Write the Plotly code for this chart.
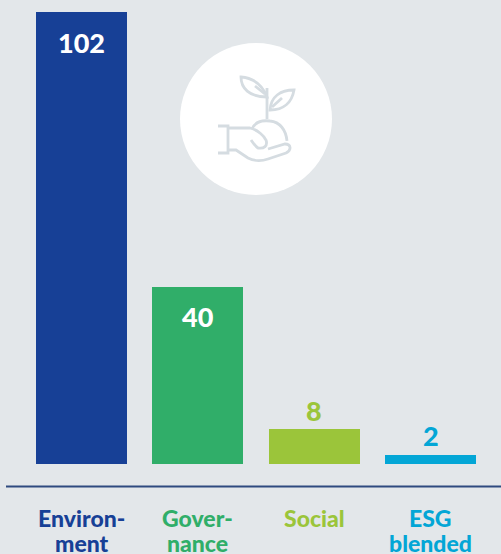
import plotly.graph_objects as go

categories = [["Environ-", "ment"], ["Gover-", "nance"], ["Social"], ["ESG", "blended"]]
values = [102, 40, 8, 2]
colors = ["#174096", "#30AE69", "#9BC53A", "#03A6D6"]
text_colors = ["#FFFFFF", "#FFFFFF", "#9BC53A", "#03A6D6"]
text_shift = [-31, -30, 18.5, 20]

W, H = 501, 554
BG = "#E3E7EA"
ICON = "#D5DCE1"
FONT = "Lato, sans-serif"


def X(p):
    return p / W


def Y(p):
    return 1 - p / H


def path(cmds):
    out = []
    for c in cmds:
        if isinstance(c, str):
            out.append(c)
        else:
            out.append(f"{X(c[0]):.5f},{Y(c[1]):.5f}")
    return " ".join(out)


fig = go.Figure(
    go.Bar(
        x=list(range(len(values))),
        y=values,
        width=0.782,
        marker=dict(color=colors, line=dict(width=0)),
        hoverinfo="skip",
    )
)

shapes = [
    dict(type="circle", xref="paper", yref="paper",
         x0=X(180), x1=X(332), y0=Y(195), y1=Y(43),
         fillcolor="#FFFFFF", line=dict(width=0), layer="below"),
    dict(type="line", xref="paper", yref="paper",
         x0=X(6), x1=X(501), y0=Y(486.5), y1=Y(486.5),
         line=dict(color="#2F4A7F", width=2)),
]

icon_paths = [
    ["M", (267, 119), "L", (267, 88)],
    ["M", (267, 97), "C", (262, 84), (254, 78), (241, 77), "C", (241, 88), (249, 97), (267, 97), "Z"],
    ["M", (255, 86), "L", (265, 94)],
    ["M", (270, 110), "C", (284, 110), (292, 102), (294, 90), "C", (281, 90), (271, 96), (270, 110), "Z"],
    ["M", (272, 107), "L", (282, 98)],
    ["M", (252, 129), "C", (255, 122), (262, 120), (270, 121), "C", (280, 122), (286, 130), (287, 141)],
    ["M", (218, 126), "L", (228, 126), "L", (228, 153), "L", (218, 153)],
    ["M", (229, 128), "L", (250, 128), "C", (258, 130), (264, 136), (266, 140),
     "C", (268, 146), (264, 149), (258, 148), "C", (255, 146), (253, 143), (251, 140)],
    ["M", (229, 150), "L", (236, 150), "L", (248, 158), "C", (254, 161), (262, 161), (268, 159),
     "L", (286, 153), "C", (292, 150), (291, 144), (285, 144), "L", (268, 149)],
]
for p in icon_paths:
    shapes.append(dict(type="path", xref="paper", yref="paper", path=path(p),
                       line=dict(color=ICON, width=2.8), layer="above"))

annotations = []
for i, (lines, col) in enumerate(zip(categories, colors)):
    for j, line in enumerate(lines):
        annotations.append(dict(
            x=i, y=Y(518 + 24.5 * j), xref="x", yref="paper", text=line, showarrow=False,
            xanchor="center", yanchor="middle", align="center",
            font=dict(family=FONT, size=23, color=col, weight=900)))
for i, (v, col, sh) in enumerate(zip(values, text_colors, text_shift)):
    annotations.append(dict(
        x=i, y=v, xref="x", yref="y", text=str(v), showarrow=False, yshift=sh,
        xanchor="center", yanchor="middle",
        font=dict(family=FONT, size=27, color=col, weight=900)))

fig.update_layout(
    width=W, height=H,
    margin=dict(l=0, r=0, t=0, b=0),
    paper_bgcolor=BG, plot_bgcolor=BG,
    showlegend=False,
    bargap=0,
    shapes=shapes,
    annotations=annotations,
    xaxis=dict(range=[-0.7006, 3.606], visible=False, fixedrange=True),
    yaxis=dict(range=[-20.3, 104.7], visible=False, fixedrange=True),
)
fig.write_html(
    "out.html",
    config=dict(displayModeBar=False, responsive=False),
    post_script="document.body.style.margin='0';document.body.style.background='%s';document.documentElement.style.overflow='hidden';" % BG,
)
